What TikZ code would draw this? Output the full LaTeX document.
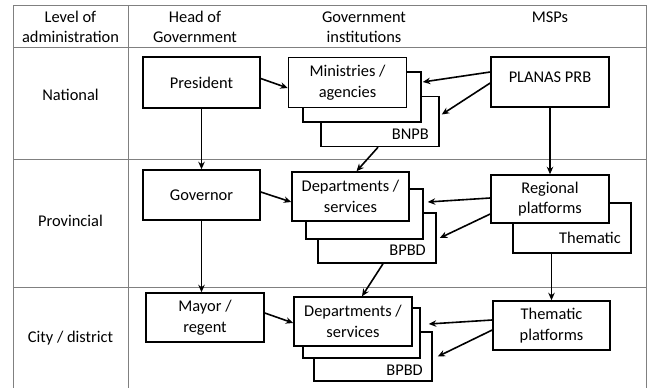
\documentclass[tikz,border=0pt]{standalone}
\usepackage{fontspec}
\setmainfont{Carlito}
\usetikzlibrary{arrows.meta,calc}
\definecolor{gridc}{RGB}{128,128,128}
\begin{document}
\begin{tikzpicture}[x=1pt,y=-1pt,
  box/.style={draw=black, line width=1.5pt, fill=white, inner sep=0pt, align=center,
    font=\fontsize{16.4}{20.5}\selectfont, minimum width=118pt, minimum height=50pt},
  lbl/.style={inner sep=0pt, align=center, font=\fontsize{16.4}{20.5}\selectfont},
  arr/.style={line width=1.6pt, -{Stealth[length=7.5pt,width=6.5pt]}},
  gridline/.style={draw=gridc, line width=1pt}]
\useasboundingbox (0,0) rectangle (648,388);
% table
\draw[gridline] (13,388) -- (13,5) -- (646,5) -- (646,388);
\draw[gridline] (128,5) -- (128,388);
\draw[gridline] (13,47) -- (646,47);
\draw[gridline] (13,159) -- (646,159);
\draw[gridline] (13,287) -- (646,287);
% headers
\node[lbl] (h1) at (70.5,27) {Level of\\administration};
\node[lbl] (h2) at (195,27) {Head of\\Government};
\node[lbl] (h3) at (364,27) {Government\\institutions};
\node[lbl] (h4) at (550,17) {MSPs};
% row labels
\node[lbl] (r1) at (70.5,95) {National};
\node[lbl] (r2) at (70.5,220.5) {Provincial};
\node[lbl] (r3) at (70.5,338) {City / district};
% national
\node[box, minimum width=117pt, minimum height=51pt] (pres) at (201.5,82.5) {President};
\node[box] (min3) at (380,121.5) {};
\node[box] (min2) at (362,97) {};
\node[box] (min1) at (347.5,82.5) {Ministries /\\agencies};
\node[lbl, anchor=east] (bnpb) at (429,134) {BNPB};
\node[box] (planas) at (550,82) {};
\node[lbl] (planast) at (550,77) {PLANAS PRB};
% provincial
\node[box, minimum width=117pt] (gov) at (201.5,195) {Governor};
\node[box] (dep3) at (377,238) {};
\node[box, minimum width=117pt] (dep2) at (364.5,214) {};
\node[box, minimum width=117pt, minimum height=49pt] (dep1) at (350.5,196.5) {Departments /\\services};
\node[lbl, anchor=east] (bpbd1) at (426,250) {BPBD};
\node[box] (thm) at (572,228) {};
\node[box, minimum height=48pt] (reg) at (550,199) {Regional\\platforms};
\node[lbl, anchor=east] (thmt) at (621,237.5) {Thematic};
% city
\node[box, minimum height=49pt] (mayor) at (205,317.5) {Mayor /\\regent};
\node[box, minimum height=49pt] (cdep3) at (373,356.5) {};
\node[box, minimum width=117pt] (cdep2) at (361.5,333) {};
\node[box, minimum height=49pt] (cdep1) at (353,321.5) {Departments /\\services};
\node[lbl, anchor=east] (bpbd2) at (423,370) {BPBD};
\node[box, minimum width=117pt, minimum height=49pt] (tp) at (551.5,325.5) {Thematic\\platforms};
% vertical connectors
\draw[arr] (pres.south) -- (gov.north);
\draw[arr] (gov.south) -- (gov.south |- mayor.north);
\draw[arr] (planas.south) -- (reg.north);
\draw[arr] (thm.south -| tp.north) -- (tp.north);
% diagonal connectors
\draw[arr] ($(pres.east)+(0,-4)$) -- ($(min1.west)+(0,5.5)$);
\draw[arr] ($(planas.west)+(0,-10)$) -- ($(min2.east)+(1,-15)$);
\draw[arr] ($(planas.west)+(0,1)$) -- ($(min3.east)+(2,-7)$);
\draw[arr] ($(min3.south)+(-2,0)$) -- ($(dep1.north)+(6,0)$);
\draw[arr] ($(gov.east)+(0,-3)$) -- ($(dep1.west)+(0,5.5)$);
\draw[arr] ($(reg.west)+(0,-1)$) -- ($(dep2.east)+(4,-12)$);
\draw[arr] ($(reg.west)+(0,15)$) -- ($(dep3.east)+(3,0)$);
\draw[arr] ($(dep3.south)+(6,0)$) -- ($(cdep1.north)+(9,0)$);
\draw[arr] ($(mayor.east)+(0,-4.5)$) -- ($(cdep1.west)+(0,1.5)$);
\draw[arr] ($(tp.west)+(0,-5.5)$) -- ($(cdep2.east)+(8,-9)$);
\draw[arr] ($(tp.west)+(0,4.5)$) -- ($(cdep3.east)+(5,0)$);
\end{tikzpicture}
\end{document}
